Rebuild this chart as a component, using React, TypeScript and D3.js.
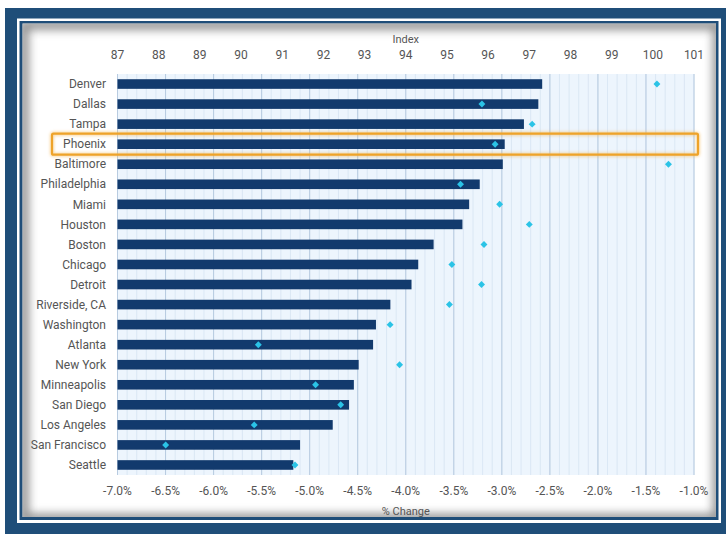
import { scaleLinear, scaleBand, range, symbol, symbolSquare } from 'd3';

const cities = [
  'Denver', 'Dallas', 'Tampa', 'Phoenix', 'Baltimore', 'Philadelphia', 'Miami', 'Houston', 'Boston', 'Chicago',
  'Detroit', 'Riverside, CA', 'Washington', 'Atlanta', 'New York', 'Minneapolis', 'San Diego', 'Los Angeles',
  'San Francisco', 'Seattle',
];
// bars: % change
const pctChange = [
  -2.58, -2.62, -2.77, -2.97, -2.99, -3.23, -3.34, -3.41, -3.71, -3.87,
  -3.94, -4.16, -4.31, -4.34, -4.49, -4.54, -4.59, -4.76, -5.10, -5.17,
];
// diamonds: index
const indexVals = [
  100.1, 95.85, 97.07, 96.17, 100.38, 95.33, 96.28, 97.0, 95.9, 95.12,
  95.84, 95.06, 93.62, 90.42, 93.85, 91.81, 92.42, 90.32, 88.17, 91.31,
];
const indexTicks = range(87, 102, 1);
const pctTicks = range(-7, -0.99, 0.5);
const highlight = 'Phoenix';

const W = 726;
const H = 534;
const left = 117.5;
const right = 694;
const top = 74;
const bottom = 475;

export default function App() {
  const x = scaleLinear().domain([-7, -1]).range([left, right]);
  const xi = scaleLinear().domain([87, 101]).range([left, right]);
  const y = scaleBand<string>().domain(cities).range([top, bottom]).paddingInner(0.52).paddingOuter(0.26);
  const minor = range(-7, -0.99, 0.1);
  const diamond = symbol().type(symbolSquare).size(24)() as string;
  const hy = (y(highlight) ?? 0) + y.bandwidth() / 2;
  const font = 'Roboto, "Open Sans", sans-serif';

  return (
    <svg width={W} height={H} style={{ position: 'absolute', left: 0, top: 0 }} fontFamily={font}>
      <defs>
        <clipPath id="panelClip">
          <rect x={22.5} y={23.5} width={693.5} height={493.5} />
        </clipPath>
        <filter id="blur8" x="-10%" y="-10%" width="120%" height="120%">
          <feGaussianBlur stdDeviation={5} />
        </filter>
        <filter id="glow" x="-5%" y="-50%" width="110%" height="200%">
          <feGaussianBlur stdDeviation={1.5} />
        </filter>
      </defs>

      {/* frame */}
      <rect x={0} y={0} width={W} height={H} fill="#fff" />
      <rect x={5} y={8} width={W - 5} height={H - 8} fill="#1f4e79" />
      <rect x={17} y={18.5} width={704} height={504.5} fill="#fff" />
      <rect x={19.5} y={21} width={699} height={499} fill="#1f4e79" />
      <rect x={22.5} y={23.5} width={693.5} height={493.5} fill="#fff" />
      <g clipPath="url(#panelClip)">
        <rect x={24} y={25} width={693.5} height={493.5} fill="none" stroke="#8a8a8a" strokeWidth={9} filter="url(#blur8)" />
      </g>

      {/* plot background + grid */}
      <rect x={left} y={top} width={right - left} height={bottom - top} fill="#edf5fd" />
      {minor.map((v, i) => (
        <line key={'m' + i} x1={x(v)} x2={x(v)} y1={top} y2={bottom} stroke="#d5e3f1" strokeWidth={0.8} />
      ))}
      {pctTicks.map((v, i) => (
        <line key={'M' + i} x1={x(v)} x2={x(v)} y1={top} y2={bottom} stroke="#b8cbe0" strokeWidth={1} />
      ))}

      {/* bars */}
      {cities.map((c, i) => (
        <rect key={c} x={x(-7)} y={y(c)} width={x(pctChange[i]) - x(-7)} height={y.bandwidth()} fill="#123a6d" />
      ))}

      {/* diamonds */}
      {cities.map((c, i) => (
        <path key={'d' + c} d={diamond} fill="#2bc3e6"
          transform={`translate(${xi(indexVals[i])},${(y(c) ?? 0) + y.bandwidth() / 2}) rotate(45)`} />
      ))}

      {/* category labels */}
      {cities.map(c => (
        <text key={'l' + c} x={106} y={(y(c) ?? 0) + y.bandwidth() / 2} dy="0.35em" textAnchor="end"
          fontSize={12} fill="#555">{c}</text>
      ))}

      {/* highlight box */}
      <rect x={52} y={hy - 10.5} width={646} height={21} rx={1.5} fill="none" stroke="#f2b24a" strokeWidth={4} opacity={0.5} filter="url(#glow)" />
      <rect x={52} y={hy - 10.5} width={646} height={21} rx={1.5} fill="none" stroke="#eea32a" strokeWidth={2.2} />

      {/* top axis: index */}
      {indexTicks.map(v => (
        <text key={'i' + v} x={xi(v)} y={59} textAnchor="middle" fontSize={12} fill="#555">{v}</text>
      ))}
      <text x={(left + right) / 2} y={43} textAnchor="middle" fontSize={11} fill="#555">Index</text>

      {/* bottom axis: % change */}
      {pctTicks.map(v => (
        <text key={'p' + v} x={x(v)} y={495} textAnchor="middle" fontSize={12} fill="#555">{v.toFixed(1)}%</text>
      ))}
      <text x={(left + right) / 2} y={515} textAnchor="middle" fontSize={11} fill="#555">% Change</text>
    </svg>
  );
}
